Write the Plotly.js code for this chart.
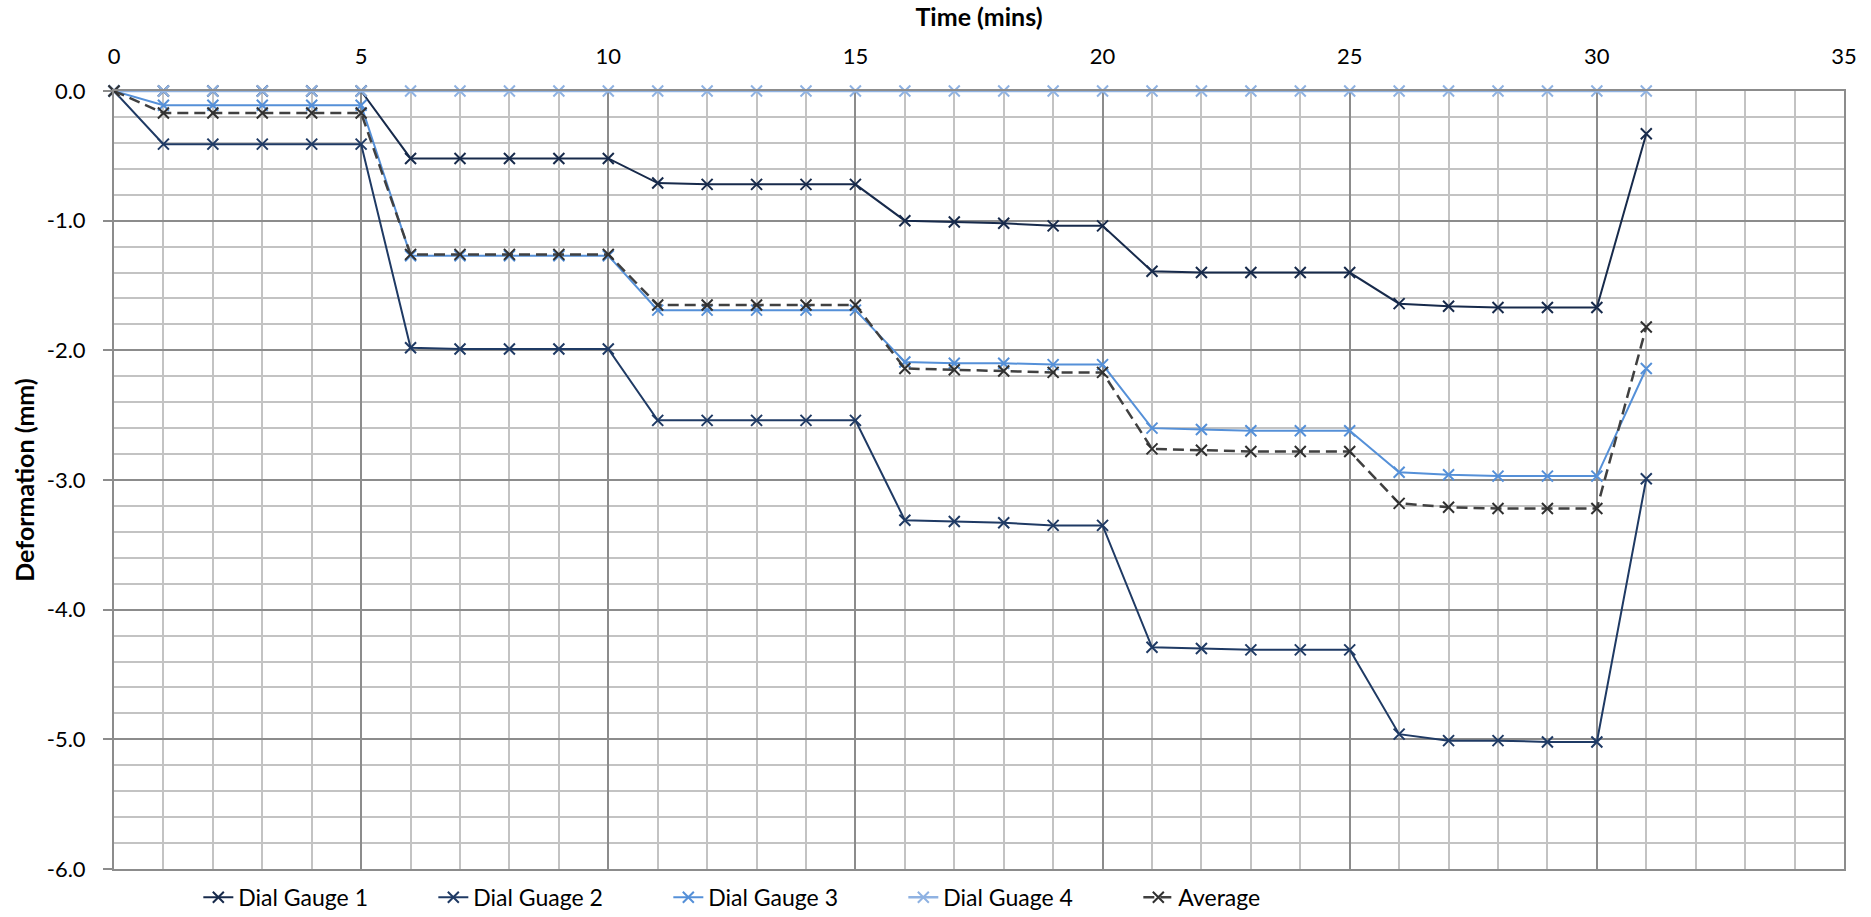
<!DOCTYPE html>
<html>
<head>
<meta charset="utf-8">
<script src="https://cdn.plot.ly/plotly-3.0.1.min.js"></script>
<style>
html,body{margin:0;padding:0;background:#fff;}
#chart{width:1871px;height:917px;}
</style>
</head>
<body>
<div id="chart"></div>
<script>
// Time (mins)
const timeMins = [0,1,2,3,4,5,6,7,8,9,10,11,12,13,14,15,16,17,18,19,20,21,22,23,24,25,26,27,28,29,30,31];

// Deformation (mm) per gauge
const dialGauge1 = [0,0,0,0,0,0,-0.52,-0.52,-0.52,-0.52,-0.52,-0.71,-0.72,-0.72,-0.72,-0.72,-1.00,-1.01,-1.02,-1.04,-1.04,-1.39,-1.40,-1.40,-1.40,-1.40,-1.64,-1.66,-1.67,-1.67,-1.67,-0.33];
const dialGuage2 = [0,-0.41,-0.41,-0.41,-0.41,-0.41,-1.98,-1.99,-1.99,-1.99,-1.99,-2.54,-2.54,-2.54,-2.54,-2.54,-3.31,-3.32,-3.33,-3.35,-3.35,-4.29,-4.30,-4.31,-4.31,-4.31,-4.96,-5.01,-5.01,-5.02,-5.02,-2.99];
const dialGauge3 = [0,-0.11,-0.11,-0.11,-0.11,-0.11,-1.27,-1.27,-1.27,-1.27,-1.27,-1.69,-1.69,-1.69,-1.69,-1.69,-2.09,-2.10,-2.10,-2.11,-2.11,-2.60,-2.61,-2.62,-2.62,-2.62,-2.94,-2.96,-2.97,-2.97,-2.97,-2.14];
const dialGuage4 = [0,0,0,0,0,0,0,0,0,0,0,0,0,0,0,0,0,0,0,0,0,0,0,0,0,0,0,0,0,0,0,0];
const average    = [0,-0.17,-0.17,-0.17,-0.17,-0.17,-1.26,-1.26,-1.26,-1.26,-1.26,-1.65,-1.65,-1.65,-1.65,-1.65,-2.14,-2.15,-2.16,-2.17,-2.17,-2.76,-2.77,-2.78,-2.78,-2.78,-3.18,-3.21,-3.22,-3.22,-3.22,-1.82];

const seriesNames = ['Dial Gauge 1','Dial Guage 2','Dial Gauge 3','Dial Guage 4','Average'];
const xTitle = 'Time (mins)';
const yTitle = 'Deformation (mm)';
const xTickVals = [0,5,10,15,20,25,30,35];
const xTickLabels = ['0','5','10','15','20','25','30','35'];
const yTickVals = [0,-1,-2,-3,-4,-5,-6];
const yTickLabels = ['0.0','-1.0','-2.0','-3.0','-4.0','-5.0','-6.0'];

const FONT = 'Lato, "Open Sans", "Liberation Sans", sans-serif';

function mk(name, y, color, lw, dash, mcolor) {
  return {
    type: 'scatter', mode: 'lines+markers', name: name,
    x: timeMins, y: y, cliponaxis: false,
    line: {color: color, width: lw, dash: dash || 'solid'},
    marker: {symbol: 'x-thin', size: 11, color: mcolor || color, line: {color: mcolor || color, width: 2}}
  };
}

const traces = [
  mk(seriesNames[0], dialGauge1, '#172a4b', 2),
  mk(seriesNames[1], dialGuage2, '#1f3a64', 2),
  mk(seriesNames[2], dialGauge3, '#5590d8', 2),
  mk(seriesNames[3], dialGuage4, '#8fb2e2', 2.5),
  mk(seriesNames[4], average, '#404040', 2.5, '11px,6px', '#303030')
];

const major = '#8c8c8c', minor = '#c3c3c3';

const layout = {
  width: 1871, height: 917,
  margin: {l: 114, r: 27, t: 91, b: 48},
  paper_bgcolor: '#ffffff', plot_bgcolor: '#ffffff',
  font: {family: FONT, size: 22, color: '#000000'},
  showlegend: true,
  xaxis: {
    side: 'top', range: [0, 35], tickmode: 'array', tickvals: xTickVals, ticktext: xTickLabels,
    showgrid: true, gridcolor: major, gridwidth: 2,
    minor: {dtick: 1, tick0: 0, showgrid: true, gridcolor: minor, gridwidth: 2},
    zeroline: false, showline: true, linecolor: major, linewidth: 2, mirror: true,
    ticks: '', ticklabelstandoff: 16,
    tickfont: {family: FONT, size: 22, color: '#000'},
    title: {text: xTitle, font: {family: FONT, size: 25, color: '#000', weight: 'bold'}, standoff: 8}
  },
  yaxis: {
    range: [-6, 0], tickmode: 'array', tickvals: yTickVals, ticktext: yTickLabels,
    showgrid: true, gridcolor: major, gridwidth: 2,
    minor: {dtick: 0.2, tick0: 0, showgrid: true, gridcolor: minor, gridwidth: 2},
    zeroline: false, showline: true, linecolor: major, linewidth: 2, mirror: true,
    ticks: 'outside', ticklen: 9, tickwidth: 2, tickcolor: major, ticklabelstandoff: 13,
    tickfont: {family: FONT, size: 22, color: '#000'},
    title: {text: yTitle, font: {family: FONT, size: 25, color: '#000', weight: 'bold'}, standoff: 5}
  },
  legend: {
    orientation: 'h', xref: 'container', x: 0.106, xanchor: 'left',
    yref: 'container', y: 0.045, yanchor: 'top',
    font: {family: FONT, size: 23, color: '#000'},
    bgcolor: 'rgba(0,0,0,0)', entrywidth: 190, entrywidthmode: 'pixels',
    traceorder: 'normal'
  }
};

Plotly.newPlot('chart', traces, layout, {displayModeBar: false, staticPlot: true});
</script>
</body>
</html>
